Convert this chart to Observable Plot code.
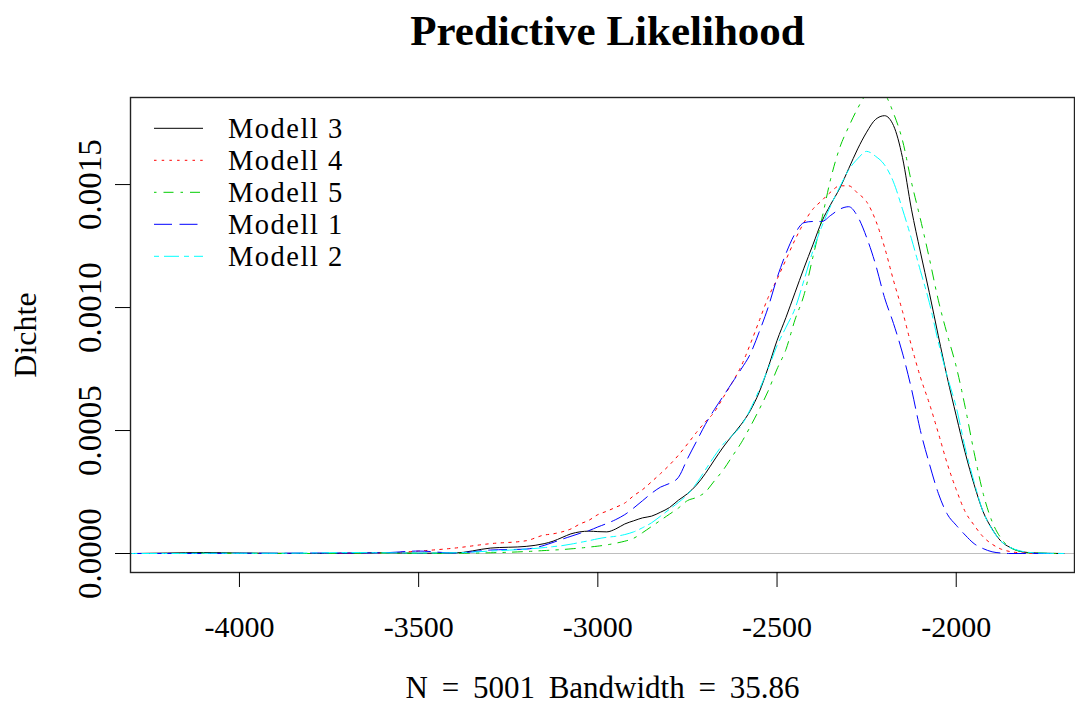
<!DOCTYPE html>
<html>
<head>
<meta charset="utf-8">
<script src="https://cdn.jsdelivr.net/npm/d3@7"></script>
<script src="https://cdn.jsdelivr.net/npm/@observablehq/plot@0.6"></script>
<style>
  html, body { margin: 0; padding: 0; background: #fff; }
  #wrap { position: relative; width: 1075px; height: 703px; font-family: "Liberation Serif", "DejaVu Serif", serif; overflow: hidden; }
  #title { position: absolute; left: 140px; right: 0; top: 10px; text-align: center; font-weight: bold; font-size: 43px; line-height: 42px; color: #000; }
  #chart { position: absolute; left: 0; top: 70px; }
  #legend { position: absolute; left: 0; top: 0; pointer-events: none; }
</style>
</head>
<body>
<div id="wrap">
  <div id="title">Predictive Likelihood</div>
  <div id="chart"></div>
  <svg id="legend" width="1075" height="300"></svg>
</div>
<script>
// x grid of the density estimates (log predictive likelihood)
const grid = [-4300,-4200,-4100,-4000,-3900,-3800,-3700,-3600,-3500,-3400,-3300,-3200,
  -3150,-3125,-3100,-3075,-3050,-3025,-3000,-2975,-2950,-2925,-2900,-2875,-2850,-2825,-2800,-2775,-2750,
  -2725,-2700,-2675,-2650,-2625,-2600,-2575,-2550,-2525,-2500,-2475,-2450,-2425,-2400,-2375,
  -2350,-2325,-2300,-2275,-2250,-2225,-2200,-2175,-2150,-2125,-2100,-2075,-2050,-2025,-2000,
  -1975,-1950,-1925,-1900,-1875,-1850,-1825,-1800,-1750,-1700];

// densities in units of 1e-4
const modell3 = [0,0.02,0.04,0.02,0.01,0,0.01,0.03,0.01,0.02,0.22,0.29,
  0.40,0.50,0.65,0.80,0.88,0.91,0.89,0.88,1.0,1.2,1.33,1.45,1.52,1.68,1.87,2.17,2.43,
  2.78,3.25,3.8,4.33,4.8,5.25,5.8,6.55,7.55,8.66,9.6,10.6,11.6,12.55,13.5,
  14.2,14.85,15.65,16.45,17.13,17.65,17.8,17.4,16.1,14.0,12.26,10.6,8.85,7.15,5.6,
  4.1,2.8,1.7,1.0,0.5,0.25,0.1,0.04,0.01,0];
const modell4 = [0,0,0,0,0,0,0.01,0.02,0.1,0.22,0.4,0.52,
  0.75,0.8,0.88,1.0,1.2,1.35,1.58,1.72,1.88,2.05,2.35,2.6,2.92,3.25,3.6,4.0,4.45,
  4.92,5.35,5.75,6.35,6.95,7.62,8.5,9.45,10.4,11.15,11.95,12.75,13.45,14.0,14.35,
  14.7,14.95,14.95,14.65,14.3,13.55,12.45,11.1,9.85,8.45,7.17,6.1,4.9,3.65,2.6,
  1.7,1.15,0.68,0.38,0.18,0.08,0.03,0.01,0,0];
const modell5 = [0,0,0.01,0.01,0,0,0.01,0.02,0.01,0.01,0.03,0.08,
  0.12,0.14,0.16,0.19,0.22,0.26,0.3,0.35,0.42,0.5,0.62,0.85,1.1,1.35,1.6,1.85,2.15,
  2.28,2.5,2.95,3.4,3.95,4.5,5.15,5.85,6.6,7.5,8.3,9.5,10.5,12.05,13.6,
  15.25,16.5,17.35,18.1,18.7,18.95,18.7,17.9,16.8,15.1,13.6,12.0,10.3,8.9,7.6,
  5.95,4.1,2.45,1.3,0.62,0.25,0.1,0.03,0.01,0];
const modell1 = [0,0,0,0.01,0.01,0.02,0.02,0.03,0.1,0.02,0.14,0.18,
  0.33,0.45,0.58,0.7,0.82,0.93,1.08,1.22,1.38,1.58,1.85,2.15,2.45,2.7,2.85,3.1,3.85,
  4.55,5.25,5.85,6.4,6.95,7.5,8.1,9.0,10.0,11.2,12.2,13.0,13.45,13.5,13.5,
  13.75,14.0,14.1,13.7,12.85,11.75,10.4,9.35,8.15,6.7,5.0,3.65,2.45,1.6,1.15,
  0.75,0.4,0.2,0.07,0.02,0,0,0,0,0];
const modell2 = [0,0,0.01,0.01,0.01,0.02,0.04,0.03,0.02,0.03,0.1,0.18,
  0.24,0.28,0.32,0.38,0.45,0.52,0.6,0.66,0.7,0.77,0.88,1.05,1.25,1.52,1.8,2.08,2.4,
  2.85,3.4,3.95,4.45,4.8,5.2,5.85,6.65,7.5,8.45,9.2,9.95,11.1,12.3,13.3,
  14.15,14.9,15.6,16.05,16.35,16.15,15.8,15.1,14.0,12.8,11.5,10.2,8.6,7.2,5.95,
  4.3,2.9,1.7,0.98,0.5,0.25,0.12,0.05,0.01,0];

const legendNames = ["Modell 3","Modell 4","Modell 5","Modell 1","Modell 2"];
const legendValues = [modell3, modell4, modell5, modell1, modell2];
const colors = ["#000000","#FF0000","#00CD00","#0000FF","#00FFFF"];
const dashes = [null,"2.5,5.2","2.5,7,10,7","18,7.5","5,5,15,5"];

const xTicks = [-4000,-3500,-3000,-2500,-2000];
const yTicks = [0,0.0005,0.0010,0.0015];
const xLabel = "N = 5001 Bandwidth = 35.86";
const yLabel = "Dichte";

const series = legendNames.map((name, k) =>
  grid.map((x, i) => ({model: name, x, d: legendValues[k][i] * 1e-4})));

const plot = Plot.plot({
  width: 1075,
  height: 633,
  marginTop: 27,
  marginBottom: 131,
  marginLeft: 130,
  marginRight: 1,
  x: {domain: [-4304, -1670]},
  y: {domain: [-0.0000772, 0.001854]},
  style: {fontFamily: '"Liberation Serif", serif', background: "white", color: "black"},
  marks: [
    Plot.ruleY([0], {stroke: "#BEBEBE", strokeWidth: 1}),
    ...series.map((s, k) => Plot.line(s, {
      x: "x", y: "d", stroke: colors[k], strokeWidth: 1,
      strokeDasharray: dashes[k] || undefined, curve: "monotone-x", clip: true
    })),
    Plot.frame({stroke: "#222", strokeWidth: 1.4}),
    Plot.axisX({ticks: xTicks, tickSize: 15, tickPadding: 28, fontSize: 30,
      tickFormat: d => String(d), label: null}),
    Plot.axisY({ticks: yTicks, tickSize: 15, tickFormat: () => "", label: null}),
    Plot.text(yTicks, {y: d => d, text: d => d.toFixed(4), frameAnchor: "left", dx: -30,
      rotate: -90, lineAnchor: "bottom", textAnchor: "middle", fontSize: 33}),
    Plot.text([yLabel], {text: d => d, frameAnchor: "left", dx: -95, rotate: -90,
      lineAnchor: "bottom", textAnchor: "middle", fontSize: 32}),
    Plot.text([xLabel], {text: d => d, frameAnchor: "bottom", dy: 125,
      lineAnchor: "bottom", textAnchor: "middle", fontSize: 31})
  ]
});
document.getElementById("chart").appendChild(plot);
d3.select(plot).selectAll("text").filter(function () { return this.textContent === xLabel; })
  .style("word-spacing", "6px");

// legend inside the plot area (top-left)
const lg = d3.select("#legend");
const rowY0 = 128.3, rowStep = 32;
legendNames.forEach((name, k) => {
  const y = rowY0 + k * rowStep;
  lg.append("line").attr("x1", 154).attr("x2", 203).attr("y1", y).attr("y2", y)
    .attr("stroke", colors[k]).attr("stroke-width", 1)
    .attr("stroke-dasharray", dashes[k] || null);
  lg.append("text").attr("x", 228).attr("y", y + 10)
    .attr("font-family", '"Liberation Serif", serif').attr("font-size", 28.5)
    .style("letter-spacing", "1.5px")
    .attr("fill", "#000").text(name);
});
</script>
</body>
</html>
